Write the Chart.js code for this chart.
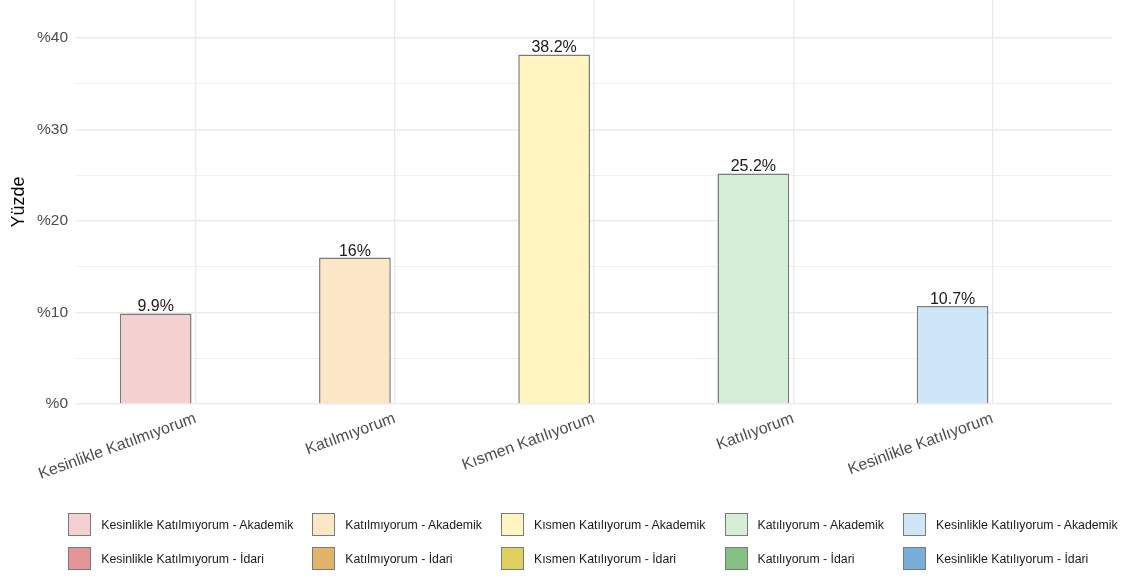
<!DOCTYPE html>
<html>
<head>
<meta charset="utf-8">
<script src="https://cdn.jsdelivr.net/npm/chart.js@4"></script>
<style>
  body { margin: 0; background: #fff; }
  #wrap { position: relative; width: 1126px; height: 578px; }
  #legend {
    position: absolute; left: 30px; top: 513px; width: 1126px;
    display: grid; grid-template-columns: repeat(5, auto);
    justify-content: center; column-gap: 19px; row-gap: 11px;
    font-family: "Liberation Sans", Arial, sans-serif; font-size: 12.3px; color: #1a1a1a;
  }
  .item { display: flex; align-items: center; }
  .box { width: 21px; height: 21px; border: 1.5px solid #7a7a7a; margin-right: 10px; }
</style>
</head>
<body>
<div id="wrap">
  <canvas id="chart" width="1126" height="578"></canvas>
  <div id="legend"></div>
</div>
<script>
// Kategorier og værdier
const categories = ['Kesinlikle Katılmıyorum', 'Katılmıyorum', 'Kısmen Katılıyorum', 'Katılıyorum', 'Kesinlikle Katılıyorum'];
const akademik = [9.9, 16, 38.2, 25.2, 10.7];
const idari = [null, null, null, null, null];
const yTicks = [0, 10, 20, 30, 40];

const akademikColors = ['#f5d0d1', '#fbe6c5', '#fff5c0', '#d6edd6', '#cfe5f8'];
const idariColors = ['#e39597', '#e2b46a', '#dfcf5c', '#85c084', '#78aed9'];

Chart.defaults.font.family = '"Liberation Sans", Arial, sans-serif';

// Etiketter over søjlerne
const valueLabels = {
    id: 'valueLabels',
    afterDatasetsDraw(chart) {
        const ctx = chart.ctx;
        const meta = chart.getDatasetMeta(0);
        ctx.save();
        ctx.font = '16px "Liberation Sans", Arial, sans-serif';
        ctx.fillStyle = '#1a1a1a';
        ctx.textAlign = 'center';
        ctx.textBaseline = 'alphabetic';
        meta.data.forEach(function(bar, i) {
            ctx.fillText(akademik[i] + '%', bar.x, bar.y - 2);
        });
        ctx.restore();
    }
};

const ctx = document.getElementById('chart').getContext('2d');
const chart = new Chart(ctx, {
    type: 'bar',
    data: {
        datasets: [
            {
                label: 'Akademik',
                data: akademik.map((v, i) => ({ x: i, y: v })),
                backgroundColor: akademikColors,
                borderColor: '#7a7a7a',
                borderWidth: 1.5
            },
            {
                label: 'İdari',
                data: idari.map((v, i) => ({ x: i, y: v })),
                backgroundColor: idariColors,
                borderColor: '#7a7a7a',
                borderWidth: 1.5
            }
        ]
    },
    options: {
        responsive: false,
        animation: false,
        layout: { padding: { left: 0, right: 14, top: 0, bottom: 0 } },
        plugins: {
            legend: { display: false },
            tooltip: { enabled: false }
        },
        scales: {
            x: {
                type: 'linear',
                min: -0.6,
                max: 4.6,
                offset: false,
                afterBuildTicks: function(scale) {
                    scale.ticks = categories.map((c, i) => ({ value: i }));
                },
                afterFit: function(scale) {
                    scale.height = 174;
                },
                border: { display: false },
                grid: { color: '#ebebeb', lineWidth: 1.4, drawTicks: false, offset: false },
                ticks: {
                    autoSkip: false,
                    minRotation: 20,
                    maxRotation: 20,
                    padding: 5,
                    color: '#4d4d4d',
                    font: { size: 16 },
                    callback: function(value) { return categories[value]; }
                }
            },
            y: {
                min: 0,
                max: 44.15,
                afterBuildTicks: function(scale) {
                    const t = [];
                    for (let v = 0; v <= 40; v += 5) t.push({ value: v });
                    scale.ticks = t;
                },
                afterFit: function(scale) {
                    scale.width = 76;
                    scale.paddingTop = 0;
                    scale.paddingBottom = 0;
                },
                border: { display: false },
                grid: {
                    color: '#ebebeb',
                    drawTicks: false,
                    lineWidth: function(c) { return yTicks.includes(c.tick.value) ? 1.4 : 0.8; }
                },
                ticks: {
                    padding: 8,
                    color: '#4d4d4d',
                    font: { size: 15.5 },
                    callback: function(value) { return yTicks.includes(value) ? '%' + value : ''; }
                },
                title: {
                    display: true,
                    text: 'Yüzde',
                    color: '#000',
                    font: { size: 18 },
                    padding: { top: 8, bottom: 0 }
                }
            }
        }
    },
    plugins: [valueLabels]
});

// Forklaring (to rækker, fem kolonner)
const legend = document.getElementById('legend');
[['Akademik', akademikColors], ['İdari', idariColors]].forEach(function(row) {
    categories.forEach(function(cat, i) {
        const item = document.createElement('div');
        item.className = 'item';
        const box = document.createElement('span');
        box.className = 'box';
        box.style.background = row[1][i];
        const txt = document.createElement('span');
        txt.textContent = cat + ' - ' + row[0];
        item.appendChild(box);
        item.appendChild(txt);
        legend.appendChild(item);
    });
});
</script>
</body>
</html>
